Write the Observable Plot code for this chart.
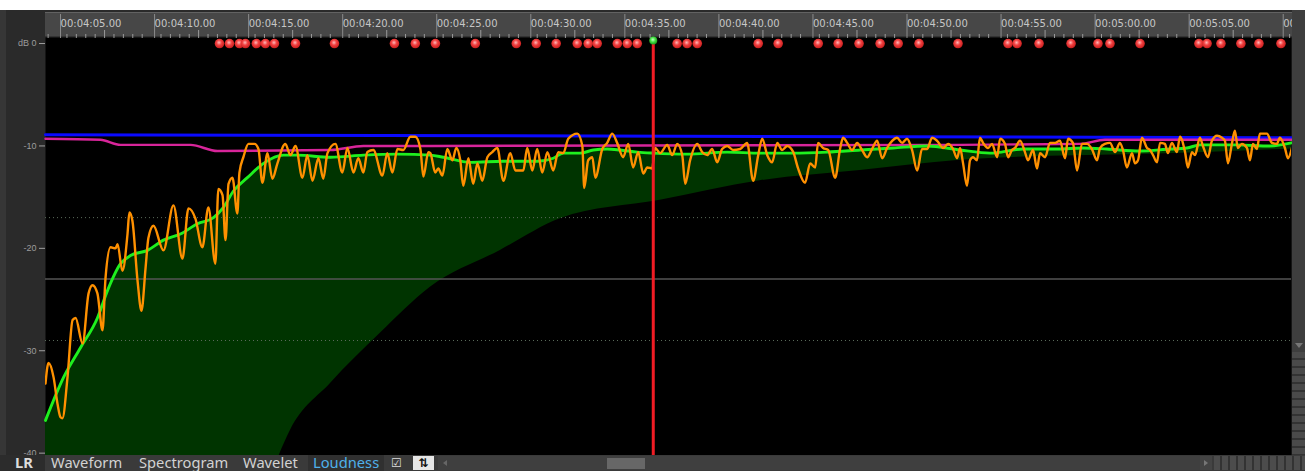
<!DOCTYPE html>
<html><head><meta charset="utf-8">
<script src="https://cdn.jsdelivr.net/npm/d3@7"></script>
<script src="https://cdn.jsdelivr.net/npm/@observablehq/plot@0.6"></script>
<style>
html,body{margin:0;padding:0;background:#fff;}
#root{position:relative;width:1305px;height:471px;overflow:hidden;background:#fff;}
#ui{position:absolute;left:0;top:10px;width:1305px;height:461px;background:#2a2a2a;}
#leftedge{position:absolute;left:0;top:10px;width:6px;height:461px;background:#363636;}
#ruler{position:absolute;left:45px;top:12px;width:1247px;height:25px;background:#474747;border-top:1px solid #626262;border-bottom:1px solid #333;box-sizing:border-box;}
#chart{position:absolute;left:0;top:0;}
#rightbar{position:absolute;left:1292px;top:10px;width:13px;height:445px;background:#3e3e3e;z-index:2;}
#rightarrow{position:absolute;left:1295px;top:343px;width:0;height:0;border-left:4px solid transparent;border-right:4px solid transparent;border-top:5px solid #777;z-index:3;}
#rightmeter{position:absolute;left:1292px;top:352px;width:13px;height:103px;z-index:3;background:repeating-linear-gradient(180deg,#4a4a4a 0 6px,#333 6px 8px);}
#bottom{position:absolute;left:0;top:455px;width:1305px;height:16px;background:#3a3a3a;z-index:4;font-family:"Noto Sans",sans-serif;font-size:14px;line-height:16px;color:#d2d2d2;}
#bottom span{position:absolute;top:0;white-space:nowrap;transform:scaleX(1.05);transform-origin:left center;}
</style>
</head><body>
<div id="root">
  <div id="ui"></div>
  <div id="leftedge"></div>
  <div id="ruler"></div>
  <div id="chart"></div>
  <div id="rightbar"></div>
  <div id="rightarrow"></div>
  <div id="rightmeter"></div>
  <div id="bottom">
    <div style="position:absolute;left:0;top:0;width:45px;height:16px;background:#2c2c2c"></div>
    <span style="left:15px;font-weight:bold;color:#dcdcdc">LR</span>
    <span style="left:51px">Waveform</span>
    <span style="left:139px">Spectrogram</span>
    <span style="left:243px">Wavelet</span>
    <div style="position:absolute;left:308px;top:0;width:76px;height:16px;background:#303030"></div>
    <span style="left:313px;color:#4fb0ea">Loudness</span>
    <span style="left:391px;font-family:'DejaVu Sans';font-size:12px;color:#ddd;transform:none">☑</span>
    <div style="position:absolute;left:413px;top:1px;width:21px;height:14px;background:#e6e6e6;color:#111;font-family:'DejaVu Sans';font-size:12px;line-height:14px;text-align:center;font-weight:bold">⇅</div>
    <div style="position:absolute;left:438px;top:1px;width:762px;height:14px;background:#3f3f3f"></div>
    <div style="position:absolute;left:443px;top:5px;width:0;height:0;border-top:3px solid transparent;border-bottom:3px solid transparent;border-right:4px solid #666"></div>
    <div style="position:absolute;left:607px;top:3px;width:38px;height:11px;background:#676767"></div>
    <div style="position:absolute;left:1200px;top:1px;width:12px;height:14px;background:#444"></div>
    <div style="position:absolute;left:1204px;top:5px;width:0;height:0;border-top:3px solid transparent;border-bottom:3px solid transparent;border-left:4px solid #777"></div>
    <div style="position:absolute;left:1214px;top:1px;width:91px;height:14px;background:repeating-linear-gradient(90deg,#4c4c4c 0 6px,#333 6px 8px)"></div>
  </div>
</div>
<script>
// ---- data (time in seconds, level in dB / LU) ----
const timeDomain = [244.36, 310.6];
const dbDomain = [-40.23, 0.59];
const dbTicks = [0, -10, -20, -30, -40];
const majorTicks = [245, 250, 255, 260, 265, 270, 275, 280, 285, 290, 295, 300, 305, 310];
const midTicks = [247.5, 252.5, 257.5, 262.5, 267.5, 272.5, 277.5, 282.5, 287.5, 292.5, 297.5, 302.5, 307.5];
const minorTicks = d3.range(244.5, 310.6, 0.5).filter(t => (t % 2.5) !== 0);
const dottedLevels = [-17, -29];
const targetLevel = [-23];
const playhead = [276.67];
const clipLevel = 0;
const clipTimes = [253.61, 254.14, 254.67, 254.99, 255.57, 256.05, 256.53, 257.65, 259.72, 262.91, 264.02, 265.09,
  267.21, 269.39, 270.45, 271.51, 272.63, 273.21, 273.69, 274.76, 275.29, 275.82, 277.94, 278.47, 279.01,
  282.25, 283.31, 285.44, 286.50, 287.61, 288.73, 289.69, 290.80, 292.87, 295.53, 296.01, 297.18, 298.88,
  300.31, 300.95, 302.55, 305.68, 306.11, 306.85, 307.91, 308.87, 310.04];

// momentary loudness (orange)
const momentary = [[244.36,-33.2],[244.52,-31.2],[244.79,-32.6],[245.00,-35.2],[245.16,-36.5],[245.26,-36.6],[245.53,-32.6],[245.80,-27.0],[245.96,-26.8],[246.33,-29.3],[246.65,-24.4],[246.86,-23.6],[247.12,-24.4],[247.39,-28.0],[247.55,-22.9],[247.82,-19.9],[248.08,-20.0],[248.19,-19.6],[248.45,-22.2],[248.72,-18.6],[248.82,-16.5],[248.98,-17.3],[249.25,-23.1],[249.46,-26.1],[249.68,-21.9],[249.83,-19.0],[250.10,-17.8],[250.63,-20.2],[251.16,-15.8],[251.64,-21.0],[251.96,-16.1],[252.33,-17.1],[252.70,-19.9],[253.02,-16.0],[253.39,-21.5],[253.55,-14.2],[253.77,-14.8],[253.93,-19.2],[254.09,-13.7],[254.30,-13.1],[254.56,-16.6],[254.67,-12.6],[254.88,-11.1],[255.15,-9.8],[255.47,-9.8],[255.68,-10.3],[255.89,-13.6],[256.16,-10.7],[256.42,-13.2],[256.69,-11.7],[257.11,-9.8],[257.38,-10.9],[257.65,-10.0],[258.02,-13.1],[258.28,-10.9],[258.55,-13.4],[258.87,-11.2],[259.13,-13.2],[259.35,-10.7],[259.77,-9.8],[260.14,-12.6],[260.41,-10.2],[260.73,-12.6],[260.99,-11.2],[261.26,-12.6],[261.47,-10.6],[261.79,-10.4],[262.27,-12.9],[262.53,-10.7],[262.80,-12.6],[263.07,-10.3],[263.38,-10.4],[263.76,-9.1],[264.02,-9.1],[264.29,-10.3],[264.45,-13.0],[264.71,-10.6],[264.82,-10.7],[265.08,-12.6],[265.24,-12.2],[265.46,-12.9],[265.72,-10.3],[265.99,-11.4],[266.20,-10.2],[266.41,-11.4],[266.57,-13.9],[266.84,-11.2],[267.10,-13.7],[267.32,-11.7],[267.58,-13.4],[267.85,-11.1],[268.11,-10.6],[268.38,-10.2],[268.70,-13.4],[269.07,-10.7],[269.34,-12.4],[269.76,-12.4],[269.97,-10.2],[270.24,-12.4],[270.50,-10.3],[270.77,-12.6],[271.04,-10.6],[271.35,-12.4],[271.62,-10.6],[271.89,-10.7],[272.15,-9.3],[272.63,-8.8],[272.90,-10.0],[273.00,-14.1],[273.21,-11.4],[273.43,-11.1],[273.59,-13.1],[273.96,-10.3],[274.22,-9.7],[274.49,-8.8],[274.75,-9.7],[275.07,-11.1],[275.34,-9.8],[275.60,-12.1],[275.87,-10.6],[276.14,-12.7],[276.35,-12.1],[276.61,-12.2],[276.77,-10.2],[277.04,-10.7],[277.41,-9.9],[277.68,-10.9],[277.94,-9.8],[278.21,-10.9],[278.37,-13.7],[278.63,-11.4],[279.01,-9.8],[279.27,-10.6],[279.54,-10.9],[279.80,-10.3],[280.07,-11.6],[280.33,-10.3],[280.60,-10.0],[280.92,-10.4],[281.29,-10.3],[281.66,-9.7],[281.98,-13.4],[282.25,-10.9],[282.46,-9.3],[282.73,-10.9],[282.99,-11.6],[283.26,-9.7],[283.52,-10.4],[283.79,-10.0],[284.11,-10.6],[284.37,-12.2],[284.74,-13.6],[285.01,-11.7],[285.28,-12.1],[285.43,-9.7],[285.70,-10.2],[285.97,-10.4],[286.34,-13.1],[286.60,-10.3],[286.76,-9.2],[286.98,-9.7],[287.24,-10.4],[287.51,-9.7],[287.77,-10.4],[288.04,-11.1],[288.30,-10.3],[288.57,-9.5],[288.84,-11.2],[289.10,-10.2],[289.37,-9.5],[289.63,-9.2],[289.90,-9.7],[290.16,-9.3],[290.43,-10.4],[290.70,-12.4],[290.96,-10.3],[291.23,-10.3],[291.49,-9.2],[291.76,-9.5],[292.08,-10.2],[292.34,-9.8],[292.61,-10.3],[292.82,-11.2],[292.98,-10.2],[293.14,-11.7],[293.35,-13.9],[293.51,-11.4],[293.67,-11.1],[293.88,-11.4],[294.04,-9.2],[294.20,-9.7],[294.47,-10.2],[294.68,-9.8],[294.95,-11.1],[295.11,-9.3],[295.37,-9.8],[295.53,-11.1],[295.74,-10.4],[295.90,-10.2],[296.17,-9.5],[296.43,-10.6],[296.59,-11.4],[296.86,-10.4],[297.07,-12.2],[297.23,-10.7],[297.50,-11.1],[297.76,-9.7],[298.03,-9.7],[298.29,-9.5],[298.56,-11.2],[298.72,-9.3],[298.98,-9.7],[299.20,-12.4],[299.46,-9.8],[299.73,-9.8],[299.99,-10.3],[300.26,-11.4],[300.42,-10.2],[300.68,-9.8],[300.95,-9.7],[301.22,-10.6],[301.48,-9.7],[301.64,-10.4],[301.85,-12.1],[302.12,-10.7],[302.28,-11.7],[302.44,-11.4],[302.65,-9.2],[302.92,-10.2],[303.08,-10.4],[303.24,-10.9],[303.45,-11.6],[303.61,-9.7],[303.87,-9.8],[304.03,-10.7],[304.24,-9.7],[304.51,-10.6],[304.67,-9.1],[304.94,-10.6],[305.09,-12.1],[305.31,-10.6],[305.47,-10.9],[305.73,-9.2],[305.89,-10.0],[306.16,-11.1],[306.37,-9.5],[306.64,-9.0],[306.90,-9.2],[307.06,-9.5],[307.22,-11.7],[307.43,-9.8],[307.59,-8.5],[307.75,-10.2],[307.96,-9.8],[308.23,-10.2],[308.39,-11.4],[308.55,-9.8],[308.76,-10.3],[308.92,-8.8],[309.29,-8.8],[309.56,-9.7],[309.82,-9.8],[309.98,-9.2],[310.25,-10.2],[310.41,-11.2],[310.62,-10.2]];

// short-term loudness (green)
const shortTerm = [[244.36,-36.8],[245.32,-32.6],[246.22,-29.7],[247.12,-26.8],[247.66,-24.1],[248.35,-21.5],[248.88,-20.7],[249.78,-20.2],[250.63,-19.2],[251.53,-18.6],[252.44,-17.6],[253.29,-17.0],[253.82,-16.0],[254.35,-14.4],[255.09,-13.1],[255.95,-11.7],[257.01,-10.9],[257.75,-10.9],[259.51,-11.1],[261.26,-10.9],[263.07,-10.8],[264.82,-10.9],[265.51,-11.1],[266.94,-11.6],[268.70,-11.5],[270.50,-11.5],[271.35,-11.2],[271.89,-10.7],[272.79,-10.7],[273.48,-10.4],[274.22,-10.3],[274.91,-10.4],[275.82,-10.6],[276.67,-10.7],[278.47,-10.8],[280.60,-10.6],[282.35,-10.7],[284.11,-10.7],[285.91,-10.6],[287.67,-10.4],[289.42,-10.2],[291.23,-10.0],[292.98,-10.4],[294.57,-10.7],[296.33,-10.3],[298.13,-10.3],[299.52,-10.2],[300.79,-10.3],[302.55,-10.5],[304.14,-10.3],[305.04,-10.2],[305.73,-9.9],[307.70,-9.9],[309.45,-10.0],[310.6,-9.7]];

// integrated trend (magenta)
const integratedTrend = [[244.36,-9.3],[247.28,-9.4],[248.35,-9.9],[252.07,-9.9],[253.50,-10.5],[259.51,-10.4],[261.26,-10.0],[264.82,-10.0],[292.98,-9.9],[299.36,-9.8],[300.68,-9.4],[310.6,-9.4]];

// max reference (blue)
const peakRef = [[244.36,-8.9],[310.6,-9.2]];

// lower edge of the shaded band
const bandFloor = [[256.70,-40.6],[257.38,-37.8],[259.51,-33.2],[262.16,-28.3],[264.82,-23.8],[268.54,-20.2],[271.73,-17.1],[277.04,-15.3],[282.35,-13.4],[287.67,-12.4],[292.98,-11.4],[297.76,-11.0],[303.08,-10.8],[310.6,-10.3]];

// ---- chart ----
const fmt = t => {
  const m = Math.floor(t / 60), s = t - m * 60;
  return "00:" + String(m).padStart(2, "0") + ":" + s.toFixed(2).padStart(5, "0");
};
const X = d => d[0], Y = d => d[1];

const svg = Plot.plot({
  width: 1305, height: 455,
  marginLeft: 45, marginRight: 14, marginTop: 37, marginBottom: 0,
  style: {background: "transparent", color: "#a8a8a8", fontFamily: "DejaVu Sans", fontSize: "10px", overflow: "hidden"},
  x: {domain: timeDomain, label: null},
  y: {domain: dbDomain, label: null},
  marks: [
    Plot.frame({fill: "black", stroke: null}),
    Plot.areaY(shortTerm, {x: X, y1: dbDomain[0], y2: Y, fill: "#003400", curve: "monotone-x", clip: true}),
    Plot.areaY(bandFloor, {x: X, y1: dbDomain[0], y2: Y, fill: "black", curve: "monotone-x", clip: true}),
    Plot.ruleY(dottedLevels, {stroke: "#5a6a5a", strokeWidth: 1, strokeDasharray: "1,3"}),
    Plot.ruleY(targetLevel, {stroke: "#555", strokeWidth: 1.5}),
    Plot.line(peakRef, {x: X, y: Y, stroke: "#0a0aff", strokeWidth: 3}),
    Plot.line(integratedTrend, {x: X, y: Y, stroke: "#d8259a", strokeWidth: 2.4, curve: "monotone-x"}),
    Plot.line(shortTerm, {x: X, y: Y, stroke: "#1ef01e", strokeWidth: 2.9, curve: "monotone-x"}),
    Plot.line(momentary, {x: X, y: Y, stroke: "#ff9000", strokeWidth: 2.4, curve: "monotone-x", clip: true}),
    Plot.ruleX(playhead, {stroke: "#f01c24", strokeWidth: 3}),
    Plot.dot(clipTimes, {x: d => d, y: clipLevel, r: 4.8, fill: "url(#clipGrad)", stroke: null}),
    Plot.dot(playhead, {x: d => d, frameAnchor: "top", dy: 3, r: 4, fill: "url(#headGrad)", stroke: null}),
    Plot.axisY(dbTicks, {anchor: "left", tickSize: 6, tickPadding: 3, tickFormat: d => d === 0 ? "dB 0" : String(d),
      stroke: "#a0a0a0", fill: "#9c9c9c", fontFamily: "Liberation Sans", fontSize: 9}),
    Plot.axisX(minorTicks, {anchor: "top", tickSize: 4, tickFormat: () => "", stroke: "#9a9a9a"}),
    Plot.axisX(midTicks, {anchor: "top", tickSize: 8, tickFormat: () => "", stroke: "#9a9a9a"}),
    Plot.axisX(majorTicks, {anchor: "top", tickSize: 24, tickPadding: -13, dx: 3, textAnchor: "start",
      tickFormat: fmt, stroke: "#8c8c8c", fill: "#c6c6c6", fontSize: 10})
  ]
});

const defs = document.createElementNS("http://www.w3.org/2000/svg", "defs");
defs.innerHTML = '<radialGradient id="clipGrad" cx="45%" cy="40%" r="60%"><stop offset="0" stop-color="#ffb8b8"/><stop offset="0.45" stop-color="#f24040"/><stop offset="1" stop-color="#c41c1c"/></radialGradient>' +
  '<radialGradient id="headGrad" cx="45%" cy="40%" r="60%"><stop offset="0" stop-color="#c8ffc8"/><stop offset="0.5" stop-color="#44e044"/><stop offset="1" stop-color="#1a9a1a"/></radialGradient>';
svg.insertBefore(defs, svg.firstChild);
document.getElementById("chart").appendChild(svg);
</script>
</body></html>
